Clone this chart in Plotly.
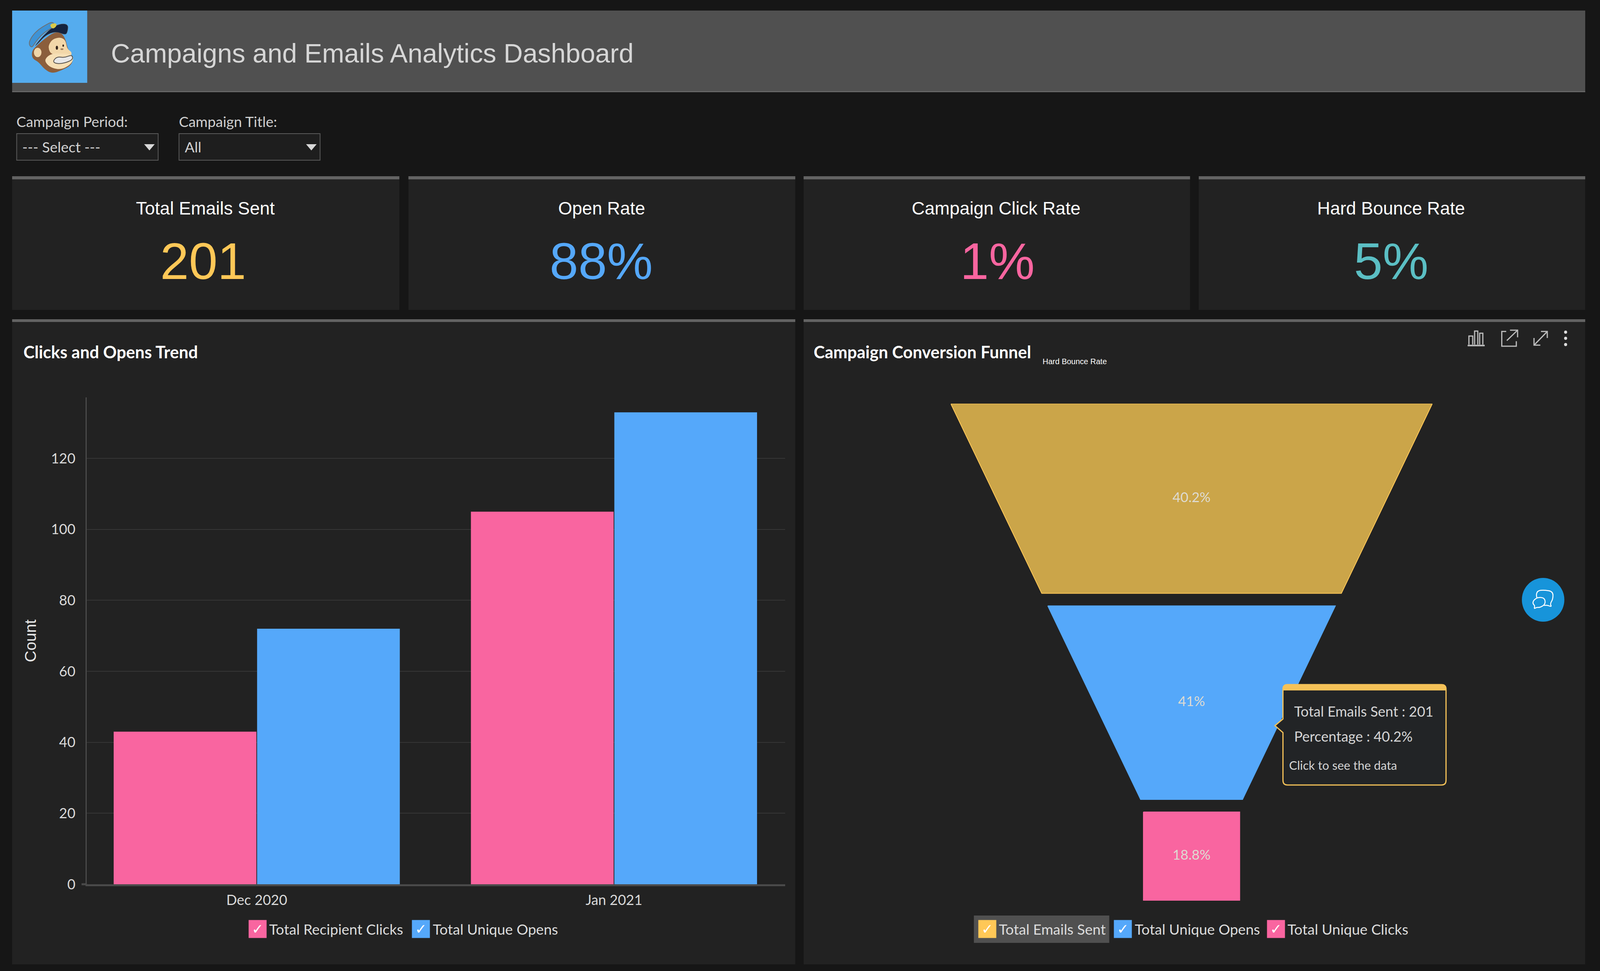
import plotly.graph_objects as go

# px/py keep working in the reference's pixel grid, the figure itself fills the window
W, H = 4219, 2485

# --- data ---
periods = ["Dec 2020", "Jan 2021"]
recipient_clicks = [43, 105]
unique_opens = [72, 133]
y_ticks = [0, 20, 40, 60, 80, 100, 120]

funnel_names = ["Total Emails Sent", "Total Unique Opens", "Total Unique Clicks"]
funnel_values = [201, 205, 94]

kpi_titles = ["Total Emails Sent", "Open Rate", "Campaign Click Rate", "Hard Bounce Rate"]
kpi_values = ["201", "88%", "1%", "5%"]

# --- colours / fonts ---
PAGE = "#161616"
PANEL = "#222222"
STRIPE = "#636363"
YELLOW = "#FFC857"
BLUE = "#55A8FA"
PINK = "#F965A0"
TEAL = "#5BBFC4"
kpi_colors = [YELLOW, BLUE, PINK, TEAL]
LATO = "Lato"
ARIAL = "Liberation Sans"


# pixel -> paper helpers
def px(x):
    return x / W


def py(y):
    return 1 - y / H


shapes = []
annotations = []


def rect(x0, y0, x1, y1, fill, line=None, lw=0, layer="below"):
    shapes.append(dict(type="rect", xref="paper", yref="paper", x0=px(x0), x1=px(x1), y0=py(y0), y1=py(y1),
                       fillcolor=fill, line=dict(color=line or fill, width=lw), layer=layer))


def oval(cx, cy, rx, ry, fill, line=None, lw=0, layer="below"):
    shapes.append(dict(type="circle", xref="paper", yref="paper", x0=px(cx - rx), x1=px(cx + rx),
                       y0=py(cy - ry), y1=py(cy + ry), fillcolor=fill,
                       line=dict(color=line or fill, width=lw), layer=layer))


def path(cmds, fill="rgba(0,0,0,0)", line=None, lw=0, layer="below"):
    # cmds = list of (letter, x, y, ...) in pixels
    parts = []
    for c in cmds:
        if c[0] == "Z":
            parts.append("Z")
            continue
        nums = c[1:]
        coords = []
        for i in range(0, len(nums), 2):
            coords.append(f"{px(nums[i]):.6f},{py(nums[i + 1]):.6f}")
        parts.append(c[0] + " ".join(coords))
    shapes.append(dict(type="path", xref="paper", yref="paper", path=" ".join(parts), fillcolor=fill,
                       line=dict(color=line or "rgba(0,0,0,0)", width=lw), layer=layer))


def polyline(points, line, lw=3, layer="below"):
    cmds = [("M", *points[0])] + [("L", *p) for p in points[1:]]
    path(cmds, line=line, lw=lw, layer=layer)


def blob(points, fill="rgba(0,0,0,0)", line=None, lw=0, layer="below"):
    # closed smooth outline through the midpoints
    n = len(points)
    mids = [((points[i][0] + points[(i + 1) % n][0]) / 2, (points[i][1] + points[(i + 1) % n][1]) / 2)
            for i in range(n)]
    cmds = [("M", *mids[-1])]
    for i in range(n):
        cmds.append(("Q", points[i][0], points[i][1], mids[i][0], mids[i][1]))
    cmds.append(("Z",))
    path(cmds, fill=fill, line=line, lw=lw, layer=layer)


def txt(x, y, s, size, color="#d9d9d9", family=LATO, anchor="left"):
    annotations.append(dict(x=px(x), y=py(y), xref="paper", yref="paper", text=s, showarrow=False,
                            xanchor=anchor, yanchor="middle", align=anchor,
                            font=dict(family=family, size=size, color=color), borderpad=0, borderwidth=0))


def check_box(x0, y0, color, size=45):
    annotations.append(dict(x=px(x0), y=py(y0), xref="paper", yref="paper", text="✓", showarrow=False,
                            xanchor="left", yanchor="top", width=size, height=size, bgcolor=color,
                            align="center", valign="middle", borderpad=0,
                            font=dict(family="DejaVu Sans", size=36, color="white")))


# --- header ---
rect(32, 27, 4180, 236, "#505050")
rect(32, 233, 4180, 236, "#666666")
txt(293, 136, "Campaigns and Emails Analytics Dashboard", 68, color="#d6d6d6", family=ARIAL)

# logo
rect(32, 27, 230, 212, "#55ACEE")


def lg(points):
    return [(30 + a / 3, 25 + b / 3) for a, b in points]


blob(lg([(180, 285), (250, 200), (330, 130), (400, 105), (450, 115), (445, 165), (430, 195), (350, 165), (270, 195), (210, 260)]),
     fill="#14233F", line="#555555", lw=1)
blob(lg([(160, 320), (195, 280), (260, 225), (340, 170), (400, 180), (430, 230), (445, 300), (490, 370), (475, 425), (400, 465),
         (320, 490), (260, 455), (215, 400), (165, 375)]), fill="#8B5E3C")
blob(lg([(135, 258), (165, 200), (215, 150), (275, 115), (325, 90), (350, 125), (290, 155), (235, 195), (190, 250), (160, 295)]),
     fill="#3E93D6", line="#6F6F6F", lw=2)
blob(lg([(300, 112), (355, 100), (358, 128), (325, 150)]), fill="#D9C94A")
oval(30 + 208 / 3, 25 + 328 / 3, 10, 12, "#F0D5A8")
blob(lg([(295, 270), (325, 225), (390, 210), (430, 235), (440, 300), (480, 325), (470, 360), (380, 350), (315, 340), (295, 305)]),
     fill="#F2D7A9")
blob(lg([(262, 380), (315, 335), (400, 335), (470, 340), (495, 375), (465, 425), (390, 460), (325, 448), (280, 420)]), fill="#F6DFB5")
blob(lg([(330, 392), (362, 360), (420, 368), (478, 345), (488, 378), (450, 400), (390, 415), (342, 410)]),
     fill="#E8E8E8", line="#55504A", lw=2)
oval(30 + 360 / 3, 25 + 292 / 3, 3, 5, "#33241A")
oval(30 + 410 / 3, 25 + 275 / 3, 2, 3, "#33241A")
oval(30 + 400 / 3, 25 + 302 / 3, 4, 2, "#9C7A58")

# --- filters ---
txt(43, 310, "Campaign Period:", 37, color="#cfcfcf")
txt(472, 310, "Campaign Title:", 37, color="#cfcfcf")
for x0, x1, label in [(44, 417, "--- Select ---"), (472, 844, "All")]:
    rect(x0, 342, x1, 410, "#1E1E1E", line="#5A5A5A", lw=2)
    txt(x0 + 15, 375, label, 37, color="#d2d2d2")
    path([("M", x1 - 37, 369), ("L", x1 - 9, 369), ("L", x1 - 23, 385), ("Z",)], fill="#D8D8D8")

# --- KPI cards ---
kpi_boxes = [(32, 1053), (1077, 2097), (2119, 3138), (3161, 4180)]
title_x = [542, 1586, 2627, 3668]
value_x = [536, 1585, 2630, 3668]
for i, (x0, x1) in enumerate(kpi_boxes):
    rect(x0, 451, x1, 793, PANEL)
    rect(x0, 451, x1, 459, STRIPE)
    txt(title_x[i], 533, kpi_titles[i], 46, color="#ffffff", family=ARIAL, anchor="center")
    txt(value_x[i], 668, kpi_values[i], 132, color=kpi_colors[i], family=ARIAL, anchor="center")

# --- chart panels ---
for x0, x1 in [(32, 2097), (2119, 4180)]:
    rect(x0, 817, x1, 2468, PANEL)
    rect(x0, 817, x1, 824, STRIPE)
txt(62, 901, "<b>Clicks and Opens Trend</b>", 43, color="#ffffff")
txt(2146, 901, "<b>Campaign Conversion Funnel</b>", 43, color="#ffffff")
txt(2749, 925, "Hard Bounce Rate", 20, color="#ffffff", family=ARIAL)

# toolbar icons
ICON = "#BDBDBD"
tb = lambda a, b: (3860 + a / 3, 830 + b / 3)
polyline([tb(30, 163), tb(165, 163)], ICON, 4)
for a0, a1, b0 in [(40, 70, 90), (85, 110, 52), (125, 150, 68)]:
    polyline([tb(a0, 155), tb(a0, b0), tb(a1, b0), tb(a1, 155)], ICON, 3)
polyline([tb(335, 55), tb(300, 55), tb(300, 168), tb(415, 168), tb(415, 130)], ICON, 3)
polyline([tb(340, 125), tb(425, 45)], ICON, 3)
polyline([tb(365, 45), tb(425, 45), tb(425, 100)], ICON, 3)
polyline([tb(555, 160), tb(660, 55)], ICON, 3)
polyline([tb(610, 55), tb(660, 55), tb(660, 105)], ICON, 3)
polyline([tb(555, 105), tb(555, 160), tb(605, 160)], ICON, 3)
for b in [60, 107, 155]:
    oval(*tb(805, b), 4, 4, "#DDDDDD")

# chat bubble
oval(4069, 1535, 56, 56, "#1794DA", layer="above")
ch = lambda a, b: (4000 + a / 3, 1470 + b / 3)
blob([ch(150, 175), ch(160, 125), ch(215, 120), ch(285, 130), ch(285, 190), ch(262, 225), ch(275, 250), ch(240, 235), ch(200, 240)],
     line="#FFFFFF", lw=2.5, layer="above")
blob([ch(130, 200), ch(165, 175), ch(220, 180), ch(225, 230), ch(180, 255), ch(155, 252), ch(135, 265), ch(142, 240), ch(125, 225)],
     fill="#1794DA", line="#FFFFFF", lw=2.5, layer="above")

# --- legends ---
rect(2568, 2343, 2925, 2413, "#505050")
left_legend = [(655, PINK, 710, "Total Recipient Clicks"), (1086, BLUE, 1141, "Total Unique Opens")]
right_legend = [(2579, YELLOW, 2634, funnel_names[0]), (2937, BLUE, 2992, funnel_names[1]), (3340, PINK, 3395, funnel_names[2])]
for box_x, color, text_x, label in left_legend + right_legend:
    check_box(box_x, 2354, color)
    txt(text_x, 2377, label, 37, color="#dcdcdc")

# --- bar chart ---
fig = go.Figure()
fig.add_trace(go.Bar(x=periods, y=recipient_clicks, name="Total Recipient Clicks", marker_color=PINK, marker_line_width=0))
fig.add_trace(go.Bar(x=periods, y=unique_opens, name="Total Unique Opens", marker_color=BLUE, marker_line_width=0))

# short stub of the x axis line sticking out left of the y axis
polyline([(215, 2263), (229, 2263)], "#4A4A4A", 5, layer="above")

# --- funnel, built from the values: widths narrow linearly with the running share, last block is the neck ---
TOP_HALF = 100
NARROW = 0.94
NECK_HALF = 20
GAP = 2.65
funnel_colors = [YELLOW, BLUE, PINK]
funnel_fills = ["#CBA549", BLUE, PINK]
total = sum(funnel_values)
pos = 0
for i, v in enumerate(funnel_values):
    share = round(v / total * 100, 1)
    start, end = pos, pos + share
    if i < len(funnel_values) - 1:
        w0, w1 = TOP_HALF - NARROW * start, TOP_HALF - NARROW * end
    else:
        w0, w1 = NECK_HALF, NECK_HALF
    fig.add_trace(go.Scatter(x=[-w0, w0, w1, -w1, -w0], y=[start, start, end, end, start], mode="lines",
                             fill="toself", fillcolor=funnel_fills[i], line=dict(color=funnel_colors[i], width=2),
                             name=funnel_names[i], xaxis="x2", yaxis="y2"))
    fig.add_trace(go.Scatter(x=[0], y=[(start + end) / 2], mode="text", text=[f"{share:g}%"],
                             textfont=dict(family=LATO, size=35, color="#DEDBD2"), textposition="middle center",
                             xaxis="x2", yaxis="y2"))
    pos = end + GAP
funnel_bottom = pos - GAP

# --- tooltip (static, as captured) ---
L, T, R, B = 3383, 1752, 3813, 2009
r = 12
path([("M", L + r, T), ("L", R - r, T), ("Q", R, T, R, T + r), ("L", R, B - r), ("Q", R, B, R - r, B), ("L", L + r, B),
      ("Q", L, B, L, B - r), ("L", L, 1875), ("L", 3362, 1857), ("L", L, 1840), ("L", L, T + r), ("Q", L, T, L + r, T), ("Z",)],
     fill="#222426", line="#F5C258", lw=3, layer="above")
path([("M", L + r, T), ("L", R - r, T), ("Q", R, T, R, T + r), ("L", R, T + 14), ("L", L, T + 14), ("L", L, T + r),
      ("Q", L, T, L + r, T), ("Z",)], fill="#F5C258", line="#F5C258", lw=2, layer="above")
txt(3413, 1820, f"{funnel_names[0]} : {funnel_values[0]}", 36, color="#d5d5d5")
txt(3413, 1884, "Percentage : 40.2%", 36, color="#d5d5d5")
txt(3399, 1958, "Click to see the data", 31, color="#d5d5d5")

fig.update_layout(
    height=H,
    margin=dict(l=0, r=0, t=0, b=0),
    autosize=True,
    paper_bgcolor=PAGE,
    plot_bgcolor="rgba(0,0,0,0)",
    showlegend=False,
    barmode="group",
    bargap=0.197,
    bargroupgap=0.005,
    shapes=shapes,
    annotations=annotations,
    xaxis=dict(domain=[px(229), px(2070)], type="category", range=[-0.4756, 1.4788], showgrid=False, zeroline=False,
               showline=True, linecolor="#4A4A4A", linewidth=5, ticks="", ticklabelstandoff=5, automargin=False,
               tickfont=dict(family=LATO, size=36, color="#d9d9d9"), anchor="y"),
    yaxis=dict(domain=[py(2263), py(1017)], range=[0, 137.2], tickvals=y_ticks, showgrid=True, gridcolor="#363636",
               gridwidth=2, zeroline=False, showline=True, linecolor="#4A4A4A", linewidth=3, ticks="", automargin=False,
               ticklabelstandoff=19, tickfont=dict(family=LATO, size=36, color="#d9d9d9"), anchor="x",
               title=dict(text="Count", font=dict(family=ARIAL, size=41, color="#e6e6e6"), standoff=26)),
    xaxis2=dict(domain=[px(2507), px(3777)], range=[-TOP_HALF, TOP_HALF], visible=False, anchor="y2", automargin=False),
    yaxis2=dict(domain=[py(2305), py(1033)], range=[funnel_bottom, 0], visible=False, anchor="x2", automargin=False),
)

fig.write_html("out.html", config=dict(displayModeBar=False, responsive=True),
               post_script="document.documentElement.style.background='#161616';document.body.style.margin='0';"
                           "document.body.style.overflow='hidden';"
                           "Plotly.Plots.resize(document.getElementById('{plot_id}'));")
